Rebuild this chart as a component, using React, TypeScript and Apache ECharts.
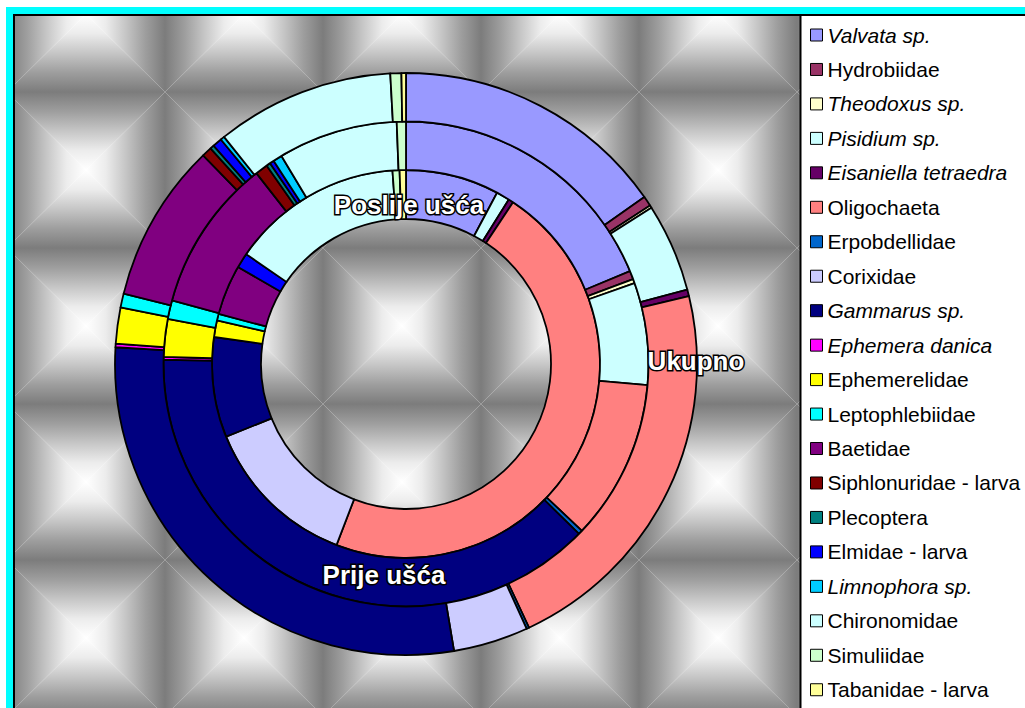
import React, { useEffect, useRef } from "react";
import * as echarts from "echarts";

const categories = [
  "Valvata sp.", "Hydrobiidae", "Theodoxus sp.", "Pisidium sp.", "Eisaniella tetraedra",
  "Oligochaeta", "Erpobdellidae", "Corixidae", "Gammarus sp.", "Ephemera danica",
  "Ephemerelidae", "Leptophlebiidae", "Baetidae", "Siphlonuridae - larva", "Plecoptera",
  "Elmidae - larva", "Limnophora sp.", "Chironomidae", "Simuliidae", "Tabanidae - larva",
];
const italicFlags = [
  true, false, true, true, true,
  false, false, false, true, true,
  false, false, false, false, false,
  false, true, false, false, false,
];
const colors = [
  "#9999FF", "#993366", "#FFFFCC", "#CCFFFF", "#660066",
  "#FF8080", "#0066CC", "#CCCCFF", "#000080", "#FF00FF",
  "#FFFF00", "#00FFFF", "#800080", "#800000", "#008080",
  "#0000FF", "#00CCFF", "#CCFFFF", "#CCFFCC", "#FFFF99",
];
// values in degrees of the ring
const poslijeUsca = [28, 0, 0, 4, 1.5, 167.5, 0, 47, 30, 0, 5, 2, 15, 0, 0, 4.5, 0, 51.5, 2.1, 1.9];
const prijeUsca = [67.5, 2, 1, 24.5, 0, 38.5, 1, 0, 136.5, 0.7, 9, 4.5, 36.7, 3, 1, 1, 2.2, 28.7, 2.2, 0];
const ukupno = [55, 2, 0.5, 17.7, 1.3, 78.5, 0.5, 15, 102.8, 0.7, 7.2, 2.8, 31.8, 2, 0.8, 1.9, 0.8, 35.6, 2.2, 0.9];
const seriesNames = ["Poslije ušća", "Prije ušća", "Ukupno"];

const FONT = '"Liberation Sans", Arial, sans-serif';

function buildTiles() {
  const els: any[] = [];
  const tw = 158, th = 156, ox = 7, oy = -64;
  const stops = [
    { offset: 0, color: "#7c7c7c" },
    { offset: 0.25, color: "#9e9e9e" },
    { offset: 0.5, color: "#c6c6c6" },
    { offset: 0.75, color: "#ececec" },
    { offset: 1, color: "#ffffff" },
  ];
  for (let j = 0; j < 5; j++) {
    for (let k = 0; k < 6; k++) {
      const x0 = ox + k * tw, y0 = oy + j * th;
      const x1 = x0 + tw, y1 = y0 + th;
      const cx = x0 + tw / 2, cy = y0 + th / 2;
      const faces = [
        { pts: [[x0, y0], [x1, y0], [cx, cy]], g: { x: 0, y: 0, x2: 0, y2: 1 } },
        { pts: [[x0, y1], [x1, y1], [cx, cy]], g: { x: 0, y: 1, x2: 0, y2: 0 } },
        { pts: [[x0, y0], [x0, y1], [cx, cy]], g: { x: 0, y: 0, x2: 1, y2: 0 } },
        { pts: [[x1, y0], [x1, y1], [cx, cy]], g: { x: 1, y: 0, x2: 0, y2: 0 } },
      ];
      faces.forEach((f) => {
        els.push({
          type: "polygon",
          silent: true,
          shape: { points: f.pts },
          style: {
            fill: { type: "linear", ...f.g, colorStops: stops, global: false },
            stroke: null,
          },
        });
      });
    }
  }
  return els;
}

function ringData(values: number[]) {
  return categories
    .map((name, i) => ({ name, value: values[i], itemStyle: { color: colors[i] } }))
    .filter((d) => d.value > 0);
}

export default function App() {
  const ref = useRef<HTMLDivElement>(null);
  useEffect(() => {
    if (!ref.current) return;
    const chart = echarts.init(ref.current, null, { renderer: "svg" });
    const radii = [[145, 194], [194, 242.5], [242.5, 291]];
    const ringValues = [poslijeUsca, prijeUsca, ukupno];
    const series = ringValues.map((vals, idx) => ({
      type: "pie",
      name: seriesNames[idx],
      radius: radii[idx],
      center: [406, 364],
      startAngle: 90,
      clockwise: true,
      avoidLabelOverlap: false,
      silent: true,
      label: { show: false },
      labelLine: { show: false },
      emphasis: { disabled: true },
      itemStyle: { borderColor: "#000", borderWidth: 1.8 },
      data: ringData(vals),
    }));

    const frame = [
      { type: "rect", silent: true, shape: { x: 0, y: 0, width: 6, height: 708 }, style: { fill: "#fff" } },
      { type: "rect", silent: true, shape: { x: 0, y: 0, width: 1025, height: 7 }, style: { fill: "#fff" } },
      { type: "rect", silent: true, shape: { x: 6, y: 7, width: 7, height: 701 }, style: { fill: "#00FFFF" } },
      { type: "rect", silent: true, shape: { x: 6, y: 7, width: 1019, height: 7 }, style: { fill: "#00FFFF" } },
      { type: "rect", silent: true, shape: { x: 13, y: 14, width: 2, height: 694 }, style: { fill: "#000" } },
      { type: "rect", silent: true, shape: { x: 13, y: 14, width: 1012, height: 2 }, style: { fill: "#000" } },
      { type: "rect", silent: true, shape: { x: 801, y: 16, width: 224, height: 692 }, style: { fill: "#fff" } },
      { type: "rect", silent: true, shape: { x: 799.5, y: 16, width: 2, height: 692 }, style: { fill: "#000" } },
    ];

    const labelStyle = (text: string, x: number, y: number) => ({
      type: "text",
      silent: true,
      z: 100,
      style: {
        text,
        x,
        y,
        fill: "#fff",
        stroke: "#000",
        lineWidth: 3,
        font: `bold 26px ${FONT}`,
        align: "center",
        verticalAlign: "middle",
      },
    });

    chart.setOption({
      animation: false,
      backgroundColor: "#fff",
      graphic: {
        elements: [
          ...buildTiles(),
          ...frame,
          labelStyle("Poslije ušća", 409, 205),
          labelStyle("Prije ušća", 384, 575),
          labelStyle("Ukupno", 696, 361),
        ],
      },
      legend: {
        orient: "vertical",
        left: 810,
        top: 23,
        bottom: 0,
        padding: 0,
        itemWidth: 12,
        itemHeight: 12,
        itemGap: 10.46,
        icon: "rect",
        selectedMode: false,
        itemStyle: { borderColor: "#000", borderWidth: 1 },
        textStyle: { fontSize: 21, lineHeight: 24, fontFamily: FONT, color: "#000" },
        data: categories.map((name, i) => ({
          name,
          textStyle: italicFlags[i] ? { fontStyle: "italic" } : { fontStyle: "normal" },
        })),
      },
      series,
    });
    return () => chart.dispose();
  }, []);
  return (
    <div
      ref={ref}
      style={{ position: "fixed", left: 0, top: 0, width: 1025, height: 708 }}
    />
  );
}
